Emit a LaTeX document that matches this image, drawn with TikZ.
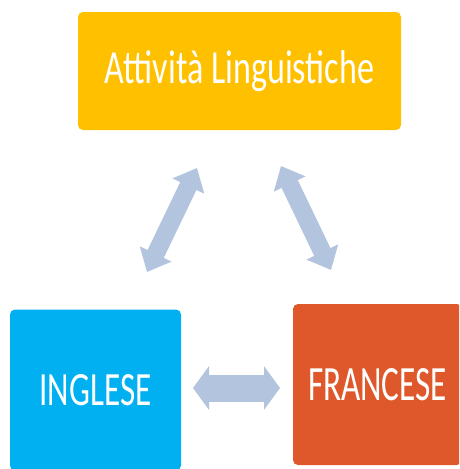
\documentclass[tikz,border=0pt]{standalone}
\usepackage{fontspec}
\setmainfont{Carlito}
\usetikzlibrary{arrows.meta}
\definecolor{gold}{HTML}{FFC000}
\definecolor{skyb}{HTML}{00B0F0}
\definecolor{rust}{HTML}{DE582C}
\definecolor{arrowc}{HTML}{B3C4DE}
\tikzset{
  box/.style={rounded corners=5pt, inner sep=0pt, text=white, draw=none},
  blockarrow/.style={draw=arrowc, line width=#1},
}
\begin{document}
\begin{tikzpicture}[x=1pt,y=-1pt]
\useasboundingbox (0,0) rectangle (459,469);
\clip (0,0) rectangle (459,469);
\node[box, fill=gold, minimum width=323pt, minimum height=118pt] (top) at (239.5,71)
  {\resizebox{269pt}{33pt}{Attività Linguistiche}};
\node[box, fill=skyb, minimum width=171pt, minimum height=161pt] (ing) at (95.5,390)
  {\resizebox{112pt}{31pt}{INGLESE}};
\node[box, fill=rust, minimum width=169pt, minimum height=161pt] (fra) at (377.5,384.5)
  {\resizebox{139pt}{32pt}{FRANCESE}};
\coordinate (a1) at (147,272);
\coordinate (a2) at (197,168);
\coordinate (b1) at (281,166);
\coordinate (b2) at (331,270);
\coordinate (c1) at (193,388);
\coordinate (c2) at (280,388);
\draw[blockarrow=18pt, {Triangle[width=34pt,length=20pt]}-{Triangle[width=34pt,length=20pt]}, arrowc] (a1) -- (a2);
\draw[blockarrow=18pt, {Triangle[width=34pt,length=20pt]}-{Triangle[width=34pt,length=20pt]}, arrowc] (b1) -- (b2);
\draw[blockarrow=27pt, {Triangle[width=43pt,length=16pt]}-{Triangle[width=43pt,length=16pt]}, arrowc] (c1) -- (c2);
\end{tikzpicture}
\end{document}
